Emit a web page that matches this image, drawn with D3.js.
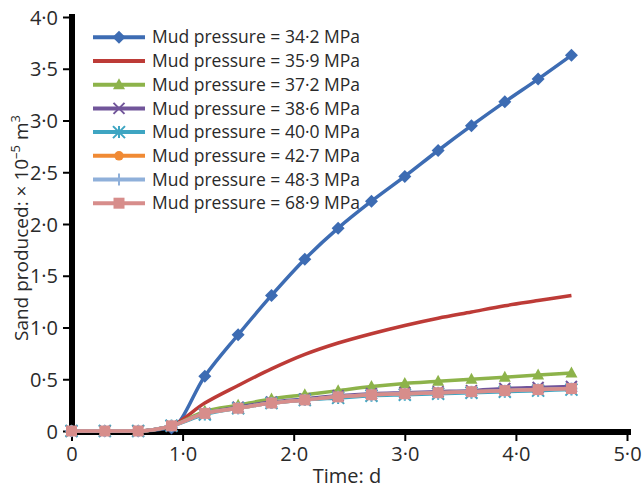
<!DOCTYPE html>
<html>
<head>
<meta charset="utf-8">
<script src="https://cdn.jsdelivr.net/npm/d3@7"></script>
<style>
  body { margin: 0; background: #fff; }
  text { font-family: "Open Sans", "Noto Sans", sans-serif; fill: #2a2a2a; }
</style>
</head>
<body>
<svg id="chart" width="644" height="489"></svg>
<script>
const times = [0, 0.3, 0.6, 0.9, 1.2, 1.5, 1.8, 2.1, 2.4, 2.7, 3.0, 3.3, 3.6, 3.9, 4.2, 4.5];

const mud342 = [0, 0, 0, 0.03, 0.53, 0.93, 1.31, 1.66, 1.96, 2.22, 2.46, 2.71, 2.95, 3.18, 3.40, 3.63];
const mud359 = [0, 0, 0, 0.05, 0.27, 0.44, 0.60, 0.74, 0.85, 0.94, 1.02, 1.09, 1.15, 1.21, 1.26, 1.31];
const mud372 = [0, 0, 0, 0.05, 0.19, 0.25, 0.31, 0.35, 0.39, 0.43, 0.46, 0.48, 0.50, 0.52, 0.54, 0.56];
const mud386 = [0, 0, 0, 0.05, 0.17, 0.23, 0.28, 0.31, 0.34, 0.36, 0.37, 0.38, 0.39, 0.41, 0.42, 0.43];
const mud400 = [0, 0, 0, 0.05, 0.16, 0.22, 0.27, 0.30, 0.32, 0.34, 0.35, 0.36, 0.37, 0.38, 0.39, 0.40];
const mud427 = [0, 0, 0, 0.05, 0.17, 0.22, 0.27, 0.30, 0.33, 0.35, 0.36, 0.37, 0.38, 0.39, 0.40, 0.41];
const mud483 = [0, 0, 0, 0.05, 0.17, 0.22, 0.27, 0.30, 0.33, 0.35, 0.36, 0.37, 0.38, 0.39, 0.40, 0.41];
const mud689 = [0, 0, 0, 0.05, 0.17, 0.22, 0.27, 0.30, 0.33, 0.35, 0.36, 0.37, 0.38, 0.39, 0.40, 0.41];

const seriesNames = ["Mud pressure = 34·2 MPa", "Mud pressure = 35·9 MPa", "Mud pressure = 37·2 MPa",
  "Mud pressure = 38·6 MPa", "Mud pressure = 40·0 MPa", "Mud pressure = 42·7 MPa",
  "Mud pressure = 48·3 MPa", "Mud pressure = 68·9 MPa"];
const seriesValues = [mud342, mud359, mud372, mud386, mud400, mud427, mud483, mud689];
const seriesColors = ["#3d6cb3", "#bd3b37", "#8db34a", "#71559a", "#3ea5c2", "#f08a34", "#8fb0da", "#d78d8b"];
const seriesMarkers = ["diamond", "none", "triangle", "x", "asterisk", "circle", "plus", "square"];

const xTicks = [0, 1, 2, 3, 4, 5];
const xTickLabels = ["0", "1·0", "2·0", "3·0", "4·0", "5·0"];
const yTicks = [0, 0.5, 1, 1.5, 2, 2.5, 3, 3.5, 4];
const yTickLabels = ["0", "0·5", "1·0", "1·5", "2·0", "2·5", "3·0", "3·5", "4·0"];

const svg = d3.select("#chart");
const x = d3.scaleLinear().domain([0, 5]).range([71.5, 627]);
const y = d3.scaleLinear().domain([0, 4]).range([431, 17]);

function markerPath(type) {
  switch (type) {
    case "diamond": return "M0,-6.5L6.5,0L0,6.5L-6.5,0Z";
    case "triangle": return "M0,-6.5L6,4.5L-6,4.5Z";
    case "circle": return d3.symbol(d3.symbolCircle, 70)();
    case "square": return "M-5.5,-5.5H5.5V5.5H-5.5Z";
    case "x": return "M-5.5,-5.5L5.5,5.5M-5.5,5.5L5.5,-5.5";
    case "plus": return "M-6,0L6,0M0,-6L0,6";
    case "asterisk": return "M-6,-6L6,6M-6,6L6,-6M0,-6L0,6";
  }
  return null;
}

function drawMarker(g, type, color) {
  if (type === "none") return;
  const p = g.append("path").attr("d", markerPath(type));
  if (type === "x" || type === "plus" || type === "asterisk") {
    p.attr("fill", "none").attr("stroke", color).attr("stroke-width", 2);
  } else {
    p.attr("fill", color);
  }
}

// axes
const xAxis = d3.axisBottom(x).tickValues(xTicks).tickFormat((d, i) => xTickLabels[i]).tickSize(9).tickSizeOuter(0);
const yAxis = d3.axisLeft(y).tickValues(yTicks).tickFormat((d, i) => yTickLabels[i]).tickSize(9).tickSizeOuter(0);

const gx = svg.append("g").attr("transform", "translate(0,432)").call(xAxis);
const gy = svg.append("g").attr("transform", "translate(72,0)").call(yAxis);

gx.select(".domain").attr("d", "M69,0H631");
gy.select(".domain").attr("d", "M0,14V435");
[gx, gy].forEach(g => {
  g.select(".domain").attr("stroke", "#000").attr("stroke-width", 6);
  g.selectAll(".tick line").attr("stroke", "#000").attr("stroke-width", 2);
  g.selectAll(".tick text").attr("font-size", 20).attr("fill", "#2a2a2a")
    .style("font-family", "'Open Sans', sans-serif");
});
gx.selectAll(".tick text").attr("y", 29).attr("dy", 0);
gy.selectAll(".tick text").attr("x", -14).attr("dy", "0.35em");

// series
const line = d3.line().x((d, i) => x(times[i])).y(d => y(d)).curve(d3.curveMonotoneX);
const smooth = d3.line().x((d, i) => x(times[i])).y(d => y(d)).curve(d3.curveCatmullRom);

seriesValues.forEach((vals, s) => {
  const g = svg.append("g");
  g.append("path")
    .attr("d", (s === 1 ? smooth : line)(vals))
    .attr("fill", "none")
    .attr("stroke", seriesColors[s])
    .attr("stroke-width", 3.5);
  vals.forEach((v, i) => {
    const mg = g.append("g").attr("transform", `translate(${x(times[i])},${y(v)})`);
    drawMarker(mg, seriesMarkers[s], seriesColors[s]);
  });
});

// legend
const legend = svg.append("g");
seriesNames.forEach((name, s) => {
  const ly = 37.3 + s * 23.7;
  const row = legend.append("g").attr("transform", `translate(0,${ly})`);
  row.append("line").attr("x1", 93).attr("x2", 145).attr("y1", 0).attr("y2", 0)
    .attr("stroke", seriesColors[s]).attr("stroke-width", 4);
  const mg = row.append("g").attr("transform", "translate(119,0)");
  drawMarker(mg, seriesMarkers[s], seriesColors[s]);
  row.append("text").attr("x", 152).attr("y", 0).attr("dy", "0.35em")
    .attr("font-size", 17.5).text(name);
});

// axis titles
svg.append("text").attr("x", 347).attr("y", 483).attr("text-anchor", "middle")
  .attr("font-size", 20).text("Time: d");

const yt = svg.append("text")
  .attr("transform", "translate(28,228) rotate(-90)")
  .attr("text-anchor", "middle").attr("font-size", 19);
yt.append("tspan").text("Sand produced: × 10");
yt.append("tspan").attr("dy", -8).attr("font-size", 13).text("–5");
yt.append("tspan").attr("dy", 8).text(" m");
yt.append("tspan").attr("dy", -8).attr("font-size", 13).text("3");
</script>
</body>
</html>
